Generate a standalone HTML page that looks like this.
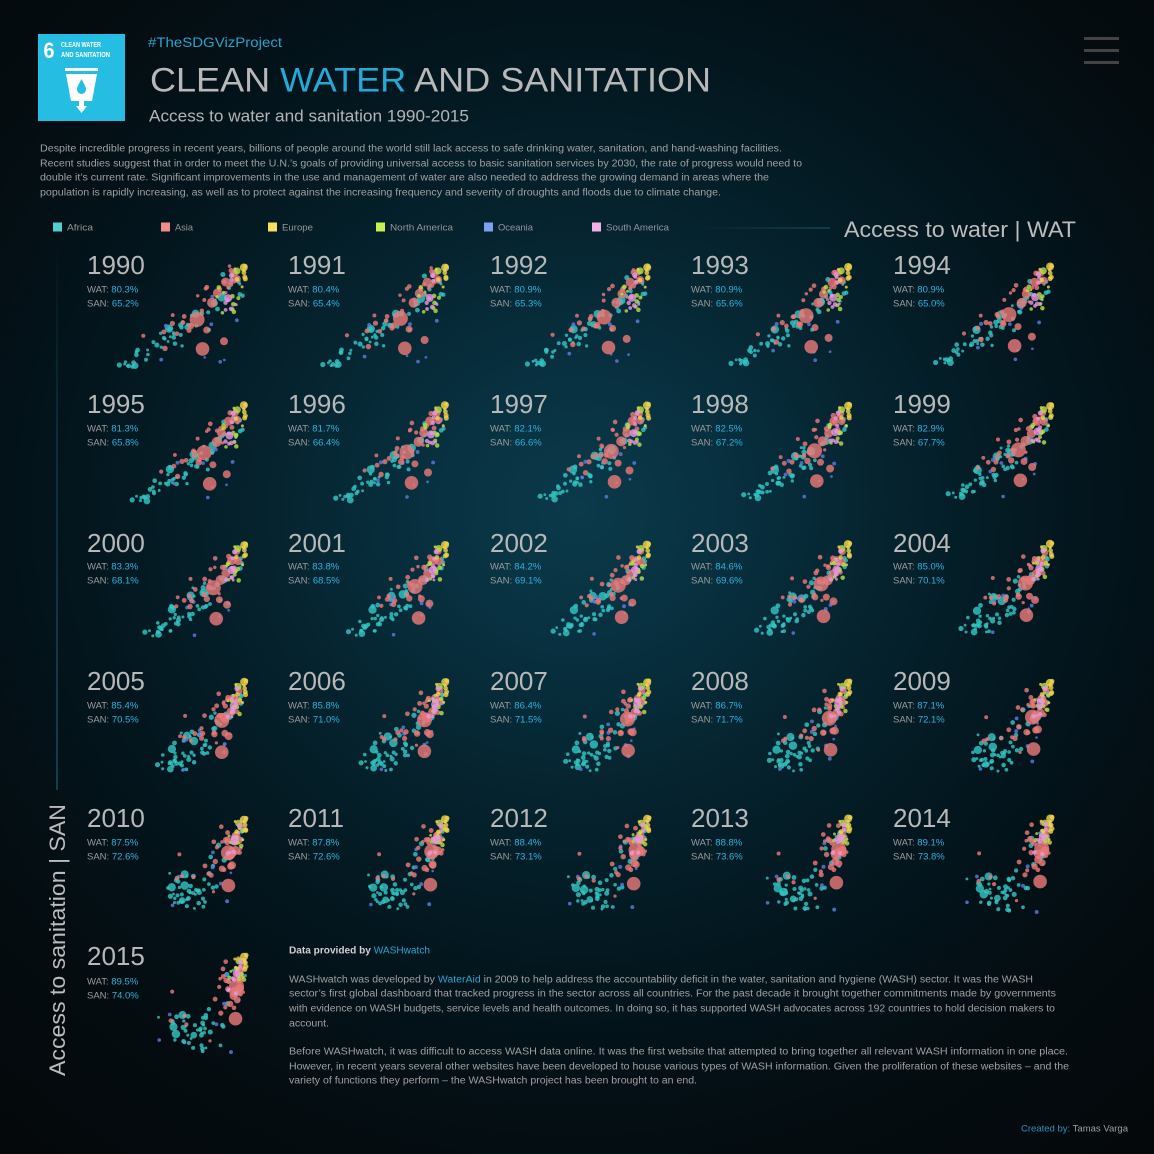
<!DOCTYPE html>
<html><head><meta charset="utf-8">
<style>
html,body{margin:0;padding:0;width:1154px;height:1154px;overflow:hidden;background:#050608;}
#bg{position:absolute;left:0;top:0;width:1154px;height:1154px;
background:radial-gradient(ellipse 85% 80% at 50% 44%, #0b3a4a 0%, #083141 14%, #05232e 32%, #03151d 52%, #040c10 72%, #050608 100%);}
svg{position:absolute;left:0;top:0;}
text{font-family:"Liberation Sans",sans-serif;}
.yr{font-size:26px;fill:#b8b8b8;}
.st{font-size:9.5px;fill:#9c9c9c;}
.v{fill:#2fb3dd;}
.p{font-size:10px;fill:#a0a0a0;}
.lg{font-size:9.5px;fill:#969696;}
</style></head>
<body><div id="bg"></div>
<svg width="1154" height="1154" viewBox="0 0 1154 1154" xmlns="http://www.w3.org/2000/svg">
<defs>
<linearGradient id="vl" x1="0" y1="0" x2="0" y2="1">
<stop offset="0" stop-color="#1f5a70" stop-opacity="0"/>
<stop offset="0.35" stop-color="#1f5a70" stop-opacity="0.7"/>
<stop offset="1" stop-color="#2a6a82" stop-opacity="1"/>
</linearGradient>
<linearGradient id="hl" x1="0" y1="0" x2="1" y2="0">
<stop offset="0" stop-color="#1f5a70" stop-opacity="0"/>
<stop offset="1" stop-color="#1f5a70" stop-opacity="1"/>
</linearGradient>
</defs>

<!-- logo -->
<rect x="38" y="34" width="87" height="87" fill="#26bde2"/>
<text x="43.5" y="58" font-size="22" font-weight="bold" fill="#fff" textLength="11" lengthAdjust="spacingAndGlyphs">6</text>
<text x="61" y="47" font-size="7" font-weight="bold" fill="#fff" textLength="40" lengthAdjust="spacingAndGlyphs">CLEAN WATER</text>
<text x="61" y="57" font-size="7" font-weight="bold" fill="#fff" textLength="49" lengthAdjust="spacingAndGlyphs">AND SANITATION</text>
<rect x="65" y="68" width="33" height="3" fill="#fff"/>
<polygon points="66,74 97,74 92,101 71,101" fill="#fff"/>
<path d="M81.5,79 C84,84 86,86.5 86,89.5 A4.5,4.5 0 0 1 77,89.5 C77,86.5 79,84 81.5,79 Z" fill="#26bde2"/>
<rect x="79" y="101" width="5" height="5" fill="#fff"/>
<polygon points="76,106 87,106 81.5,113" fill="#fff"/>

<!-- header text -->
<text x="148" y="47" font-size="14.2" fill="#2aa3cc" textLength="134" lengthAdjust="spacingAndGlyphs">#TheSDGVizProject</text>
<text x="150" y="91.7" font-size="34" fill="#b8b8b8" textLength="561" lengthAdjust="spacingAndGlyphs">CLEAN <tspan fill="#27a9d6">WATER</tspan> AND SANITATION</text>
<text x="149" y="121.7" font-size="16.3" fill="#b4b4b4" textLength="320" lengthAdjust="spacingAndGlyphs">Access to water and sanitation 1990-2015</text>

<text class="p" x="40" y="151.5" textLength="742" lengthAdjust="spacingAndGlyphs">Despite incredible progress in recent years, billions of people around the world still lack access to safe drinking water, sanitation, and hand-washing facilities.</text>
<text class="p" x="40" y="166.5" textLength="762" lengthAdjust="spacingAndGlyphs">Recent studies suggest that in order to meet the U.N.’s goals of providing universal access to basic sanitation services by 2030, the rate of progress would need to</text>
<text class="p" x="40" y="180.5" textLength="729" lengthAdjust="spacingAndGlyphs">double it’s current rate.  Significant improvements in the use and management of water are also needed to address the growing demand in areas where the</text>
<text class="p" x="40" y="195.5" textLength="681" lengthAdjust="spacingAndGlyphs">population is rapidly increasing, as well as to protect against the increasing frequency and severity of droughts and floods due to climate change.</text>

<!-- hamburger -->
<rect x="1084" y="37" width="35" height="3" fill="#434343"/>
<rect x="1084" y="49" width="35" height="3" fill="#434343"/>
<rect x="1084" y="61" width="35" height="3" fill="#434343"/>

<!-- legend -->
<rect x="53" y="222.5" width="9" height="9" fill="#4fd0cf"/>
<text class="lg" x="67" y="230.5" textLength="26" lengthAdjust="spacingAndGlyphs">Africa</text>
<rect x="161" y="222.5" width="9" height="9" fill="#f28b8b"/>
<text class="lg" x="175" y="230.5" textLength="18" lengthAdjust="spacingAndGlyphs">Asia</text>
<rect x="268" y="222.5" width="9" height="9" fill="#f6e05c"/>
<text class="lg" x="282" y="230.5" textLength="31" lengthAdjust="spacingAndGlyphs">Europe</text>
<rect x="376" y="222.5" width="9" height="9" fill="#c8f050"/>
<text class="lg" x="390" y="230.5" textLength="63" lengthAdjust="spacingAndGlyphs">North America</text>
<rect x="484" y="222.5" width="9" height="9" fill="#7f9ff0"/>
<text class="lg" x="498" y="230.5" textLength="35" lengthAdjust="spacingAndGlyphs">Oceania</text>
<rect x="592" y="222.5" width="9" height="9" fill="#f6aee8"/>
<text class="lg" x="606" y="230.5" textLength="63" lengthAdjust="spacingAndGlyphs">South America</text>
<rect x="697" y="227.5" width="133" height="1" fill="url(#hl)"/>
<text x="844" y="237" font-size="22" fill="#bcbcbc" textLength="232" lengthAdjust="spacingAndGlyphs">Access to water | WAT</text>

<!-- vertical axis -->
<rect x="56.5" y="240" width="1" height="550" fill="url(#vl)"/>
<text transform="translate(65,1076) rotate(-90)" x="0" y="0" font-size="22" fill="#bcbcbc" textLength="272" lengthAdjust="spacingAndGlyphs">Access to sanitation | SAN</text>

<g id="dots" fill-opacity="0.82"></g>

<!-- row 0 -->
<text class="yr" x="87" y="274">1990</text><text class="st" x="87" y="292.5">WAT: <tspan class="v">80.3%</tspan></text><text class="st" x="87" y="306.5">SAN: <tspan class="v">65.2%</tspan></text>
<text class="yr" x="288" y="274">1991</text><text class="st" x="288" y="292.5">WAT: <tspan class="v">80.4%</tspan></text><text class="st" x="288" y="306.5">SAN: <tspan class="v">65.4%</tspan></text>
<text class="yr" x="490" y="274">1992</text><text class="st" x="490" y="292.5">WAT: <tspan class="v">80.9%</tspan></text><text class="st" x="490" y="306.5">SAN: <tspan class="v">65.3%</tspan></text>
<text class="yr" x="691" y="274">1993</text><text class="st" x="691" y="292.5">WAT: <tspan class="v">80.9%</tspan></text><text class="st" x="691" y="306.5">SAN: <tspan class="v">65.6%</tspan></text>
<text class="yr" x="893" y="274">1994</text><text class="st" x="893" y="292.5">WAT: <tspan class="v">80.9%</tspan></text><text class="st" x="893" y="306.5">SAN: <tspan class="v">65.0%</tspan></text>
<!-- row 1 -->
<text class="yr" x="87" y="413">1995</text><text class="st" x="87" y="431.5">WAT: <tspan class="v">81.3%</tspan></text><text class="st" x="87" y="445.5">SAN: <tspan class="v">65.8%</tspan></text>
<text class="yr" x="288" y="413">1996</text><text class="st" x="288" y="431.5">WAT: <tspan class="v">81.7%</tspan></text><text class="st" x="288" y="445.5">SAN: <tspan class="v">66.4%</tspan></text>
<text class="yr" x="490" y="413">1997</text><text class="st" x="490" y="431.5">WAT: <tspan class="v">82.1%</tspan></text><text class="st" x="490" y="445.5">SAN: <tspan class="v">66.6%</tspan></text>
<text class="yr" x="691" y="413">1998</text><text class="st" x="691" y="431.5">WAT: <tspan class="v">82.5%</tspan></text><text class="st" x="691" y="445.5">SAN: <tspan class="v">67.2%</tspan></text>
<text class="yr" x="893" y="413">1999</text><text class="st" x="893" y="431.5">WAT: <tspan class="v">82.9%</tspan></text><text class="st" x="893" y="445.5">SAN: <tspan class="v">67.7%</tspan></text>
<!-- row 2 -->
<text class="yr" x="87" y="552">2000</text><text class="st" x="87" y="569.5">WAT: <tspan class="v">83.3%</tspan></text><text class="st" x="87" y="583.5">SAN: <tspan class="v">68.1%</tspan></text>
<text class="yr" x="288" y="552">2001</text><text class="st" x="288" y="569.5">WAT: <tspan class="v">83.8%</tspan></text><text class="st" x="288" y="583.5">SAN: <tspan class="v">68.5%</tspan></text>
<text class="yr" x="490" y="552">2002</text><text class="st" x="490" y="569.5">WAT: <tspan class="v">84.2%</tspan></text><text class="st" x="490" y="583.5">SAN: <tspan class="v">69.1%</tspan></text>
<text class="yr" x="691" y="552">2003</text><text class="st" x="691" y="569.5">WAT: <tspan class="v">84.6%</tspan></text><text class="st" x="691" y="583.5">SAN: <tspan class="v">69.6%</tspan></text>
<text class="yr" x="893" y="552">2004</text><text class="st" x="893" y="569.5">WAT: <tspan class="v">85.0%</tspan></text><text class="st" x="893" y="583.5">SAN: <tspan class="v">70.1%</tspan></text>
<!-- row 3 -->
<text class="yr" x="87" y="690">2005</text><text class="st" x="87" y="708.5">WAT: <tspan class="v">85.4%</tspan></text><text class="st" x="87" y="722.5">SAN: <tspan class="v">70.5%</tspan></text>
<text class="yr" x="288" y="690">2006</text><text class="st" x="288" y="708.5">WAT: <tspan class="v">85.8%</tspan></text><text class="st" x="288" y="722.5">SAN: <tspan class="v">71.0%</tspan></text>
<text class="yr" x="490" y="690">2007</text><text class="st" x="490" y="708.5">WAT: <tspan class="v">86.4%</tspan></text><text class="st" x="490" y="722.5">SAN: <tspan class="v">71.5%</tspan></text>
<text class="yr" x="691" y="690">2008</text><text class="st" x="691" y="708.5">WAT: <tspan class="v">86.7%</tspan></text><text class="st" x="691" y="722.5">SAN: <tspan class="v">71.7%</tspan></text>
<text class="yr" x="893" y="690">2009</text><text class="st" x="893" y="708.5">WAT: <tspan class="v">87.1%</tspan></text><text class="st" x="893" y="722.5">SAN: <tspan class="v">72.1%</tspan></text>
<!-- row 4 -->
<text class="yr" x="87" y="827">2010</text><text class="st" x="87" y="845.5">WAT: <tspan class="v">87.5%</tspan></text><text class="st" x="87" y="859.5">SAN: <tspan class="v">72.6%</tspan></text>
<text class="yr" x="288" y="827">2011</text><text class="st" x="288" y="845.5">WAT: <tspan class="v">87.8%</tspan></text><text class="st" x="288" y="859.5">SAN: <tspan class="v">72.6%</tspan></text>
<text class="yr" x="490" y="827">2012</text><text class="st" x="490" y="845.5">WAT: <tspan class="v">88.4%</tspan></text><text class="st" x="490" y="859.5">SAN: <tspan class="v">73.1%</tspan></text>
<text class="yr" x="691" y="827">2013</text><text class="st" x="691" y="845.5">WAT: <tspan class="v">88.8%</tspan></text><text class="st" x="691" y="859.5">SAN: <tspan class="v">73.6%</tspan></text>
<text class="yr" x="893" y="827">2014</text><text class="st" x="893" y="845.5">WAT: <tspan class="v">89.1%</tspan></text><text class="st" x="893" y="859.5">SAN: <tspan class="v">73.8%</tspan></text>
<!-- row 5 -->
<text class="yr" x="87" y="965">2015</text><text class="st" x="87" y="984.5">WAT: <tspan class="v">89.5%</tspan></text><text class="st" x="87" y="998.5">SAN: <tspan class="v">74.0%</tspan></text>

<!-- bottom text -->
<text x="289" y="953.5" font-size="10" textLength="141" lengthAdjust="spacingAndGlyphs"><tspan font-weight="bold" fill="#d0d0d0">Data provided by </tspan><tspan fill="#2aa3cc">WASHwatch</tspan></text>
<text class="p" x="289" y="982.5" textLength="744" lengthAdjust="spacingAndGlyphs">WASHwatch was developed by <tspan fill="#2aa3cc">WaterAid</tspan> in 2009 to help address the accountability deficit in the water, sanitation and hygiene (WASH) sector. It was the WASH</text>
<text class="p" x="289" y="996.5" textLength="767" lengthAdjust="spacingAndGlyphs">sector’s first global dashboard that tracked progress in the sector across all countries. For the past decade it brought together commitments made by governments</text>
<text class="p" x="289" y="1011.5" textLength="766" lengthAdjust="spacingAndGlyphs">with evidence on WASH budgets, service levels and health outcomes. In doing so, it has supported WASH advocates across 192 countries to hold decision makers to</text>
<text class="p" x="289" y="1026.5" textLength="40" lengthAdjust="spacingAndGlyphs">account.</text>
<text class="p" x="289" y="1054.5" textLength="779" lengthAdjust="spacingAndGlyphs">Before WASHwatch, it was difficult to access WASH data online. It was the first website that attempted to bring together all relevant WASH information in one place.</text>
<text class="p" x="289" y="1069.5" textLength="780" lengthAdjust="spacingAndGlyphs">However, in recent years several other websites have been developed to house various types of WASH information. Given the proliferation of these websites – and the</text>
<text class="p" x="289" y="1083.5" textLength="408" lengthAdjust="spacingAndGlyphs">variety of functions they perform – the WASHwatch project has been brought to an end.</text>

<text x="1021" y="1131.5" font-size="9.5" textLength="107" lengthAdjust="spacingAndGlyphs"><tspan fill="#2a93b8">Created by:</tspan><tspan fill="#a0a0a0"> Tamas Varga</tspan></text>
</svg>
<script>
(function(){
function mb(a){return function(){a|=0;a=a+0x6D2B79F5|0;var t=Math.imul(a^a>>>15,1|a);t=t+Math.imul(t^t>>>7,61|t)^t;return((t^t>>>14)>>>0)/4294967296;};}
var R=mb(987654);
function G(){return (R()+R()+R()-1.5)*2;}
function cl(v,a,b){return Math.max(a,Math.min(b,v));}
var P=[];
function add(c,r,x0,y0,x1,y1){P.push({c:c,r:r,x0:x0,y0:y0,x1:x1,y1:y1,jx:G(),jy:G(),ph:R()*6.28});}
var AF='#33c4c2',AS='#e97979',EU='#f0d34e',NA='#b6de46',OC='#5a7cde',SA='#e597dc';
var i,x0,y0,x1,y1,u,yd,top,r;
for(i=0;i<58;i++){
 u=R(); x0=32+u*112; yd=112-(x0-30)*0.72; y0=cl(yd+Math.abs(G())*13,8,113);
 top=R()<0.14; if(top){x0=134+R()*22;y0=16+R()*36;}
 if(top||R()<0.18){x1=138+R()*20;y1=16+R()*46;} else {x1=cl(110+G()*17,62,158);y1=cl(88+G()*11,55,113);}
 r=1.4+R()*1.3; if(R()<0.12) r=3+R()*1.3;
 add(AF,r,x0,y0,x1,y1);
}
for(i=0;i<8;i++){add(OC,1.3+R()*0.7,60+R()*90,30+R()*80,70+R()*85,25+R()*85);}
for(i=0;i<22;i++){
 x0=55+R()*100; y0=cl(112-(x0-30)*0.72+G()*12,10,112);
 if(R()<0.7){x1=128+R()*30;y1=15+R()*55;} else {x1=80+R()*65;y1=45+R()*60;}
 add(AS,1.5+R()*1.3,x0,y0,x1,y1);
}
add(AS,3.2,104,73,143,60);
add(AS,3.5,120,77,150,56);
add(AS,4,137,89,146,52);
add(AS,3.5,147,20,155,22);
add(AS,4,150,26,152,36);
add(AS,4.5,139,29,152,30);
add(AS,5,125,50,147,48);
add(AS,4.5,130,40,153,45);
add(AS,7.5,110,66,150,42);
add(AS,6.8,116,96,148,75);
for(i=0;i<9;i++){add(NA,1.4+R()*1.3,128+R()*30,18+R()*45,140+R()*18,15+R()*35);}
add(NA,3.5,150,18,152,17);
for(i=0;i<8;i++){add(SA,1.4+R()*1.3,132+R()*24,20+R()*38,138+R()*20,18+R()*35);}
add(SA,4,141,46,150,30);
for(i=0;i<8;i++){var ex=146+R()*14,ey=12+R()*22;add(EU,1.3+R()*1.5,ex,ey,ex+R()*2,ey-R()*2);}
add(EU,4,157,14,157,13);
var cols=[87,288,490,691,893], rows=[265,404,543,681,818,956];
var g=document.getElementById('dots'), ns='http://www.w3.org/2000/svg';
for(var k=0;k<26;k++){
 var X=cols[k%5], Y=rows[Math.floor(k/5)]-12, t=k/25;
 for(var j=0;j<P.length;j++){
  var p=P[j];
  var x=X+p.x0+(p.x1-p.x0)*t+Math.sin(p.ph+k*0.9)*0.6*p.jx;
  var y=Y+p.y0+(p.y1-p.y0)*t+Math.cos(p.ph+k*0.7)*0.6*p.jy;
  var c=document.createElementNS(ns,'circle');
  c.setAttribute('cx',x.toFixed(1));c.setAttribute('cy',y.toFixed(1));
  c.setAttribute('r',p.r.toFixed(2));c.setAttribute('fill',p.c);
  g.appendChild(c);
 }
}
})();
</script>
</body></html>
